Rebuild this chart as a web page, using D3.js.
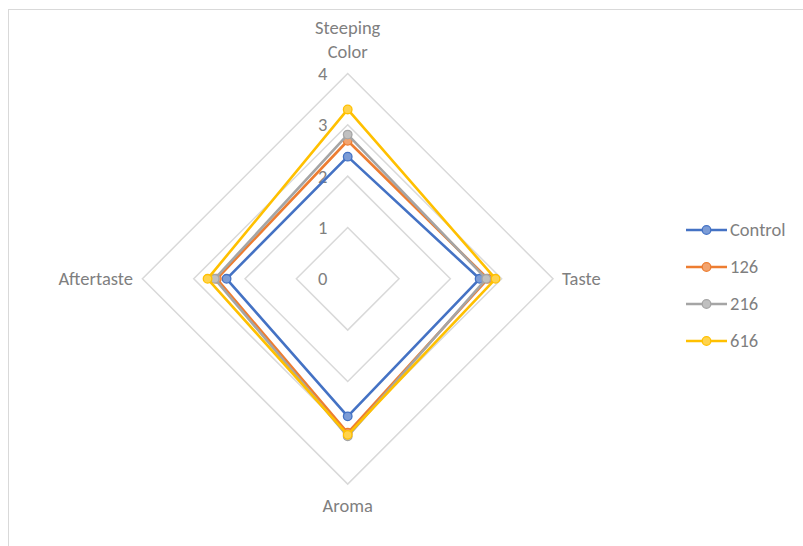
<!DOCTYPE html>
<html><head><meta charset="utf-8">
<script src="https://cdn.jsdelivr.net/npm/d3@7"></script>
<style>body{margin:0;background:#fff}svg{display:block;font-family:Carlito,Calibri,Lato,"Liberation Sans",sans-serif}</style>
</head><body><svg id="c" width="803" height="546"></svg>
<script>
const axes = ["Steeping Color","Taste","Aroma","Aftertaste"];
const seriesNames = ["Control","126","216","616"];
const colors = ["#4472C4","#ED7D31","#A5A5A5","#FFC000"];
const control = [2.38, 2.57, 2.68, 2.36];
const s126 = [2.69, 2.73, 3.00, 2.55];
const s216 = [2.81, 2.70, 3.07, 2.59];
const s616 = [3.30, 2.88, 3.04, 2.73];
const ticks = [0,1,2,3,4];
const data = [control, s126, s216, s616];

const svg = d3.select("#c");
const cx = 347.7, cy = 278.8, R = 205.3;
const FS = 18.5, TC = "#7f7f7f";
const r = d3.scaleLinear().domain([0,4]).range([0,R]);
const ang = d3.scalePoint().domain(axes).range([0, 2*Math.PI*3/4]);
const pt = (a, v) => [cx + r(v)*Math.sin(ang(a)), cy - r(v)*Math.cos(ang(a))];

svg.append("rect").attr("x",8.5).attr("y",9.5).attr("width",820).attr("height",560)
  .attr("fill","none").attr("stroke","#d9d9d9").attr("stroke-width",1);

const line = d3.line().curve(d3.curveLinearClosed);
ticks.filter(t=>t>0).forEach(t=>{
  svg.append("path").attr("d", line(axes.map(a=>pt(a,t))))
    .attr("fill","none").attr("stroke","#d9d9d9").attr("stroke-width",1.5);
});
ticks.forEach(t=>{
  svg.append("text").attr("x",cx-25).attr("y",cy - r(t)).attr("dy","0.35em")
    .attr("text-anchor","middle").attr("font-size",FS).attr("fill",TC).text(t);
});
const lab = svg.append("g").attr("font-size",FS).attr("fill",TC);
lab.append("text").attr("x",cx).attr("y",34).attr("text-anchor","middle").text("Steeping");
lab.append("text").attr("x",cx).attr("y",58).attr("text-anchor","middle").text("Color");
lab.append("text").attr("x",562).attr("y",cy).attr("dy","0.35em").attr("text-anchor","start").text("Taste");
lab.append("text").attr("x",cx).attr("y",512).attr("text-anchor","middle").text("Aroma");
lab.append("text").attr("x",133).attr("y",cy).attr("dy","0.35em").attr("text-anchor","end").text("Aftertaste");

data.forEach((vals,i)=>{
  const pts = axes.map((a,j)=>pt(a,vals[j]));
  const g = svg.append("g");
  g.append("path").attr("d", line(pts)).attr("fill","none").attr("stroke",colors[i]).attr("stroke-width",2.6).attr("stroke-linejoin","round");
  pts.forEach(p=>g.append("circle").attr("cx",p[0]).attr("cy",p[1]).attr("r",4.3)
    .attr("fill",d3.interpolateRgb(colors[i],"#fff")(0.3)).attr("stroke",colors[i]).attr("stroke-width",1.3));
});

const lg = svg.append("g");
seriesNames.forEach((n,i)=>{
  const y = 230 + i*37;
  lg.append("line").attr("x1",686).attr("x2",727).attr("y1",y).attr("y2",y).attr("stroke",colors[i]).attr("stroke-width",2.6);
  lg.append("circle").attr("cx",706.5).attr("cy",y).attr("r",4.3)
    .attr("fill",d3.interpolateRgb(colors[i],"#fff")(0.3)).attr("stroke",colors[i]).attr("stroke-width",1.3);
  lg.append("text").attr("x",730).attr("y",y).attr("dy","0.35em").attr("font-size",FS).attr("fill",TC).text(n);
});
</script></body></html>
